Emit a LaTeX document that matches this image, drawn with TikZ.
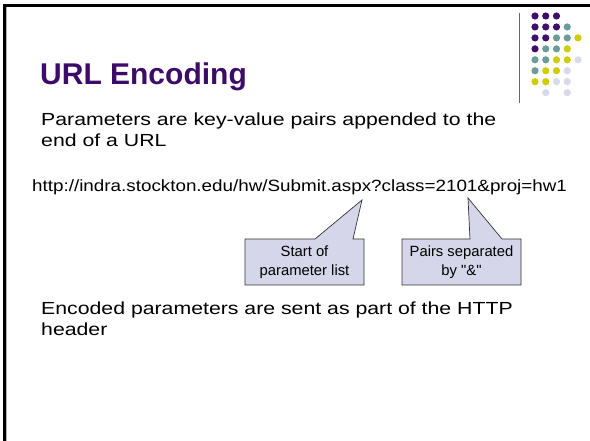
\documentclass[tikz,border=0pt]{standalone}
\usepackage{fontspec}
\setmainfont{Liberation Sans}
\newfontfamily\bodyfont[FakeStretch=1.215]{Liberation Sans}
\newfontfamily\urlfont[FakeStretch=1.155]{Liberation Sans}
\newfontfamily\callfont[Ligatures=TeXOff]{Liberation Sans}
\definecolor{ttl}{HTML}{3D0C6B}
\definecolor{dpur}{HTML}{400D6B}
\definecolor{dteal}{HTML}{6A9C9A}
\definecolor{dyel}{HTML}{CFCD00}
\definecolor{dlav}{HTML}{D9D9EC}
\definecolor{cfill}{HTML}{D6D6EA}
\begin{document}
\begin{tikzpicture}[x=1pt,y=-1pt,
  body/.style={anchor=base west,inner sep=0pt,font=\bodyfont\fontsize{17.5}{21}\selectfont},
  calltext/.style={align=center,inner sep=0pt,font=\callfont\fontsize{14.8}{18.7}\selectfont},
  callbox/.style={draw=black!80,line width=0.7pt,fill=cfill},
  dot/.style={circle,inner sep=0pt,minimum size=7.2pt}]
\useasboundingbox (0,0) rectangle (590,441);
\fill[white] (0,0) rectangle (590,441);
% frame
\draw[line width=2.7pt] (4.6,441) -- (4.6,5.3) -- (590,5.3);
\draw[gray!60,line width=0.8pt] (6.4,441) -- (6.4,7);
% divider
\draw[gray!80!black,line width=0.9pt] (519.3,13) -- (519.3,103);
% dots
\foreach \r/\c/\col in {1/1/dpur,1/2/dpur,1/3/dpur,
  2/1/dpur,2/2/dpur,2/3/dpur,2/4/dteal,
  3/1/dpur,3/2/dpur,3/3/dteal,3/4/dteal,3/5/dyel,
  4/1/dpur,4/2/dteal,4/3/dteal,4/4/dyel,
  5/1/dteal,5/2/dteal,5/3/dyel,5/4/dyel,5/5/dlav,
  6/1/dteal,6/2/dyel,6/3/dyel,6/4/dlav,
  7/1/dyel,7/2/dyel,7/3/dlav,7/4/dlav,
  8/2/dlav,8/4/dlav}
  \node[dot,fill=\col] (d\r\c) at ({535+(\c-1)*10.75},{16+(\r-1)*10.95}) {};
% title
\node[anchor=base west,inner sep=0pt,text=ttl,font=\fontsize{30}{36}\selectfont\bfseries] (title) at (40,85) {URL Encoding};
% body
\node[body] (p1) at (41,125.7) {Parameters are key-value pairs appended to the};
\node[body] (p2) at (41,146.7) {end of a URL};
\node[anchor=base west,inner sep=0pt,font=\urlfont\fontsize{16.3}{19}\selectfont] (url) at (32,191.3) {http://indra.stockton.edu/hw/Submit.aspx?class=2101\&proj=hw1};
\node[body] (e1) at (41,314.3) {Encoded parameters are sent as part of the HTTP};
\node[body] (e2) at (41,335.3) {header};
% callouts
\coordinate (t1) at (362,200);
\coordinate (t2) at (468,198);
\draw[callbox] (245,239) -- (315,239) -- (t1) -- (353,239) -- (364,239) -- (364,285) -- (245,285) -- cycle;
\draw[callbox] (402,239) -- (470,239) -- (t2) -- (502,239) -- (521,239) -- (521,285) -- (402,285) -- cycle;
\node[calltext] (c1) at (304.5,262) {Start of\\parameter list};
\node[calltext] (c2) at (461.5,262) {Pairs separated\\by "\&"};
\end{tikzpicture}
\end{document}
